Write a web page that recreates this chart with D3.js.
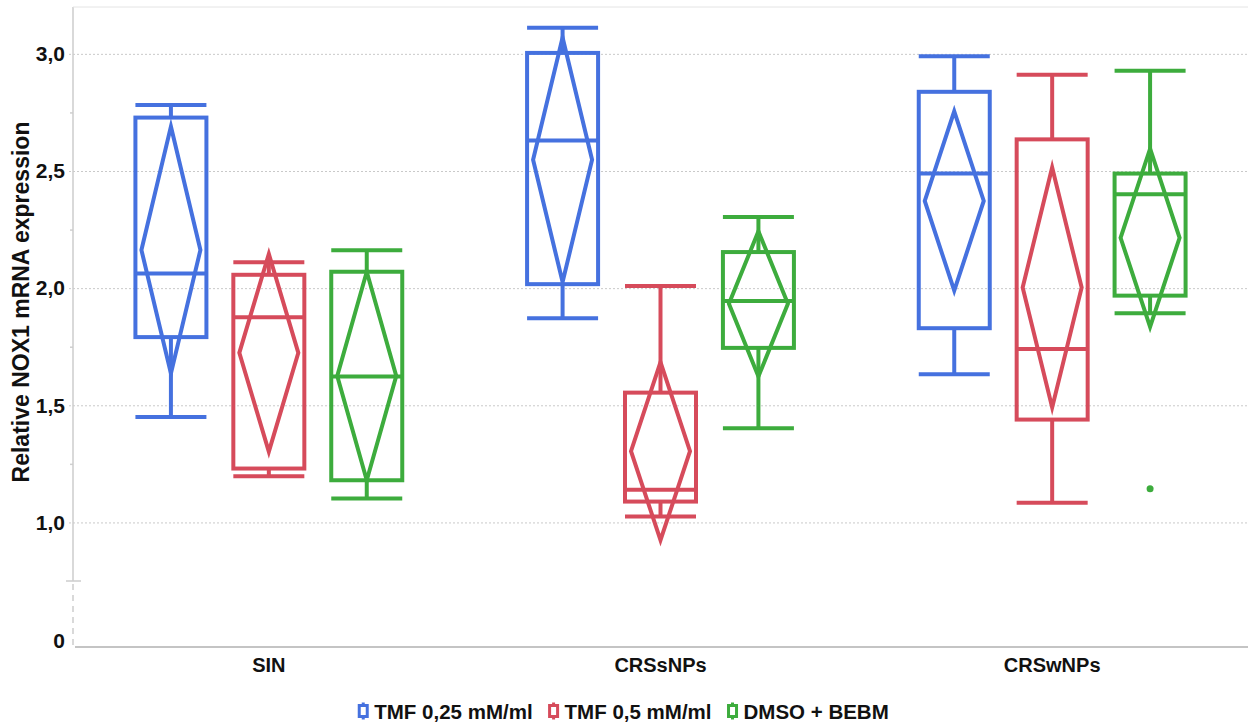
<!DOCTYPE html>
<html>
<head>
<meta charset="utf-8">
<script src="https://cdn.jsdelivr.net/npm/d3@7"></script>
<style>
  html, body { margin: 0; padding: 0; background: #fff; }
  svg { display: block; font-family: "Liberation Sans", Arial, Helvetica, sans-serif; }
</style>
</head>
<body>
<svg id="chart" width="1248" height="725"></svg>
<script>
// ---- data -------------------------------------------------------------
const categories = ["SIN", "CRSsNPs", "CRSwNPs"];
const seriesNames = ["TMF 0,25 mM/ml", "TMF 0,5 mM/ml", "DMSO + BEBM"];
const seriesColors = ["#4571df", "#d64b5b", "#3dac3d"];

// box statistics per series, one entry per category
const minTMF025    = [1.450, 1.871, 1.633];
const q1TMF025     = [1.791, 2.017, 1.829];
const medianTMF025 = [2.063, 2.630, 2.489];
const q3TMF025     = [2.728, 3.004, 2.838];
const maxTMF025    = [2.782, 3.111, 2.990];
const meanTMF025   = [2.163, 2.548, 2.372];
const ciTMF025     = [0.527, 0.522, 0.383];

const minTMF05     = [1.197, 1.025, 1.084];
const q1TMF05      = [1.230, 1.089, 1.439];
const medianTMF05  = [1.876, 1.140, 1.740];
const q3TMF05      = [2.057, 1.554, 2.635];
const maxTMF05     = [2.110, 2.009, 2.911];
const meanTMF05    = [1.724, 1.304, 2.003];
const ciTMF05      = [0.422, 0.380, 0.512];

const minDMSO      = [1.102, 1.402, 1.893];
const q1DMSO       = [1.180, 1.745, 1.968];
const medianDMSO   = [1.623, 1.945, 2.401];
const q3DMSO       = [2.070, 2.154, 2.489];
const maxDMSO      = [2.162, 2.304, 2.928];
const meanDMSO     = [1.625, 1.933, 2.215];
const ciDMSO       = [0.445, 0.310, 0.380];

// outlying points: [series index, category index, value]
const outliers = [[2, 2, 1.144]];

const majorTicks = [1.0, 1.5, 2.0, 2.5, 3.0];
const minorTicks = [1.25, 1.75, 2.25, 2.75];
const breakValue = 0.75;
const yTitle = "Relative NOX1 mRNA expression";

// ---- assemble rows -----------------------------------------------------
const stats = [
  [minTMF025, q1TMF025, medianTMF025, q3TMF025, maxTMF025, meanTMF025, ciTMF025],
  [minTMF05,  q1TMF05,  medianTMF05,  q3TMF05,  maxTMF05,  meanTMF05,  ciTMF05],
  [minDMSO,   q1DMSO,   medianDMSO,   q3DMSO,   maxDMSO,   meanDMSO,   ciDMSO]
];
const rows = [];
stats.forEach((s, si) => {
  categories.forEach((c, ci) => {
    rows.push({
      series: seriesNames[si], color: seriesColors[si], category: c,
      min: s[0][ci], q1: s[1][ci], median: s[2][ci], q3: s[3][ci],
      max: s[4][ci], mean: s[5][ci], ci: s[6][ci]
    });
  });
});

// ---- layout & scales ---------------------------------------------------
const W = 1248, H = 725;
const axisX = 73;
const baselineY = 647;
const textFont = "Liberation Sans, Arial, sans-serif";

const yTop = d3.scaleLinear().domain([breakValue, 3.2]).range([581, 7]);
const yLow = d3.scaleLinear().domain([0, breakValue]).range([641, 581]);
const yv = v => (v >= breakValue ? yTop(v) : yLow(v));

const x = d3.scaleBand().domain(categories).range([axisX, W]);
const xs = d3.scalePoint().domain(seriesNames).range([0, x.bandwidth()]).padding(1);
const boxW = 71, diamondW = 59, strokeW = 4;

const svg = d3.select("#chart");
const locale = d3.formatLocale({ decimal: ",", thousands: ".", grouping: [3], currency: ["", ""] });
const fmt = locale.format(".1f");

// ---- grid & axes -------------------------------------------------------
const grid = svg.append("g").attr("transform", `translate(${axisX - 4},0)`)
  .call(d3.axisLeft(yTop).tickValues(majorTicks).tickSize(-(W - axisX + 4)).tickFormat(""));
grid.select(".domain").remove();
grid.selectAll(".tick line").attr("stroke", "#c9c9c9").attr("stroke-width", 1).attr("stroke-dasharray", "2,2");

function styleTickText(sel, size) {
  sel.attr("font-size", size).attr("font-weight", "bold").attr("fill", "#111").attr("font-family", textFont);
}

const yAxis = svg.append("g").attr("transform", `translate(${axisX},0)`)
  .call(d3.axisLeft(yTop).tickValues(majorTicks).tickSize(4).tickPadding(4).tickFormat(fmt));
yAxis.select(".domain").remove();
yAxis.selectAll(".tick line").remove();
styleTickText(yAxis.selectAll(".tick text"), 21);

const yAxisLow = svg.append("g").attr("transform", `translate(${axisX},0)`)
  .call(d3.axisLeft(yLow).tickValues([0]).tickSize(4).tickPadding(4).tickFormat(d3.format("d")));
yAxisLow.select(".domain").remove();
yAxisLow.selectAll(".tick line").remove();
styleTickText(yAxisLow.selectAll(".tick text"), 21);

const minor = svg.append("g").attr("transform", `translate(${axisX},0)`)
  .call(d3.axisLeft(yTop).tickValues(minorTicks).tickSize(3).tickFormat(""));
minor.select(".domain").remove();
minor.selectAll(".tick line").attr("stroke", "#cfcfcf").attr("stroke-width", 1.5);

const axisColor = "#cdcdcd";
// solid axis down to the break, break marker, dashed stub to zero
svg.append("line").attr("x1", axisX).attr("x2", axisX).attr("y1", yTop(3.2)).attr("y2", yTop(breakValue))
  .attr("stroke", axisColor).attr("stroke-width", 1.5);
svg.append("line").attr("x1", W).attr("x2", axisX).attr("y1", yTop(3.2)).attr("y2", yTop(3.2))
  .attr("stroke", "#e4e4e4").attr("stroke-width", 1);
svg.append("line").attr("x1", axisX - 7).attr("x2", axisX + 8).attr("y1", yTop(breakValue)).attr("y2", yTop(breakValue))
  .attr("stroke", axisColor).attr("stroke-width", 1.5);
svg.append("line").attr("x1", axisX).attr("x2", axisX).attr("y1", yTop(breakValue) + 3).attr("y2", baselineY)
  .attr("stroke", axisColor).attr("stroke-width", 1.5).attr("stroke-dasharray", "6,5");
svg.append("line").attr("x1", axisX + 2).attr("x2", W).attr("y1", baselineY).attr("y2", baselineY)
  .attr("stroke", "#c4c4c4").attr("stroke-width", 2);

// category labels
const xAxis = svg.append("g").attr("transform", `translate(0,${baselineY})`)
  .call(d3.axisBottom(x).tickSize(0).tickPadding(11));
xAxis.select(".domain").remove();
styleTickText(xAxis.selectAll(".tick text"), 20);

// y title
svg.append("text")
  .attr("transform", `translate(29,302) rotate(-90)`)
  .attr("text-anchor", "middle")
  .attr("font-size", 23).attr("font-weight", "bold").attr("fill", "#111")
  .text(yTitle);

// ---- boxes ---------------------------------------------------------------
const cx = d => x(d.category) + xs(d.series);
const g = svg.append("g").attr("fill", "none").attr("stroke-width", strokeW);
const box = g.selectAll("g.box").data(rows).join("g").attr("class", "box").attr("stroke", d => d.color);

box.append("line").attr("x1", cx).attr("x2", cx).attr("y1", d => yv(d.max)).attr("y2", d => yv(d.q3));
box.append("line").attr("x1", cx).attr("x2", cx).attr("y1", d => yv(d.q1)).attr("y2", d => yv(d.min));
box.append("line").attr("x1", d => cx(d) - boxW / 2).attr("x2", d => cx(d) + boxW / 2)
  .attr("y1", d => yv(d.max)).attr("y2", d => yv(d.max));
box.append("line").attr("x1", d => cx(d) - boxW / 2).attr("x2", d => cx(d) + boxW / 2)
  .attr("y1", d => yv(d.min)).attr("y2", d => yv(d.min));
box.append("rect").attr("x", d => cx(d) - boxW / 2).attr("width", boxW)
  .attr("y", d => yv(d.q3)).attr("height", d => yv(d.q1) - yv(d.q3));
box.append("line").attr("x1", d => cx(d) - boxW / 2).attr("x2", d => cx(d) + boxW / 2)
  .attr("y1", d => yv(d.median)).attr("y2", d => yv(d.median));
box.append("path").attr("stroke-linejoin", "miter").attr("stroke-miterlimit", 10)
  .attr("d", d => {
    const c = cx(d);
    return `M${c},${yv(d.mean + d.ci)}L${c + diamondW / 2},${yv(d.mean)}L${c},${yv(d.mean - d.ci)}L${c - diamondW / 2},${yv(d.mean)}Z`;
  });

svg.append("g").selectAll("circle").data(outliers).join("circle")
  .attr("cx", d => x(categories[d[1]]) + xs(seriesNames[d[0]]))
  .attr("cy", d => yv(d[2]))
  .attr("r", 3.5)
  .attr("fill", d => seriesColors[d[0]]);

// ---- legend ----------------------------------------------------------------
const legend = svg.append("g");
const items = legend.selectAll("g").data(seriesNames).join("g");
items.each(function (name, i) {
  const it = d3.select(this);
  const col = seriesColors[i];
  it.append("line").attr("x1", 5).attr("x2", 5).attr("y1", -8.5).attr("y2", 8.5)
    .attr("stroke", col).attr("stroke-width", 3);
  it.append("rect").attr("x", 1).attr("y", -5.5).attr("width", 8).attr("height", 11)
    .attr("fill", "#fff").attr("stroke", col).attr("stroke-width", 3);
  it.append("text").attr("x", 16).attr("y", 7.5)
    .attr("font-size", 20.5).attr("font-weight", "bold").attr("fill", "#111").text(name);
});
let off = 0;
const widths = [];
items.each(function () { widths.push(this.getBBox().width); });
const gap = 17;
const total = d3.sum(widths) + gap * (widths.length - 1);
const start = 623 - total / 2;
items.attr("transform", (d, i) => {
  const t = `translate(${start + off},711)`;
  off += widths[i] + gap;
  return t;
});
</script>
</body>
</html>
